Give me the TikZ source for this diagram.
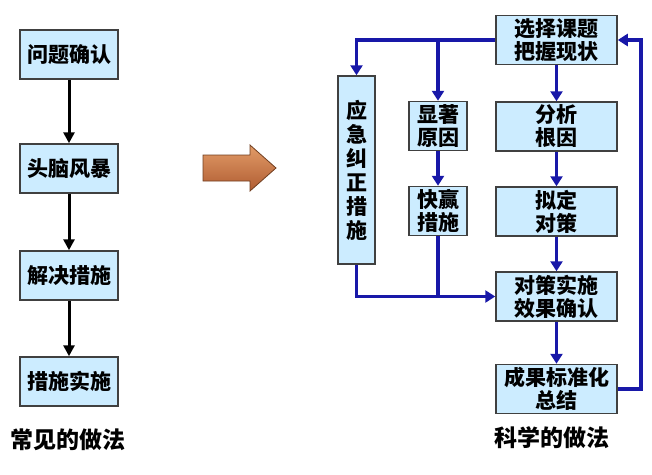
\documentclass[tikz,border=0pt]{standalone}
\usepackage{fontspec}
\setmainfont{Noto Sans CJK SC}
\usetikzlibrary{arrows.meta,positioning,calc}

\definecolor{boxblue}{RGB}{204,236,255}
\definecolor{flowblue}{RGB}{24,24,168}
\definecolor{arrowtop}{RGB}{226,156,104}
\definecolor{arrowbot}{RGB}{176,92,50}
\definecolor{arrowedge}{RGB}{112,62,32}

\begin{document}
\begin{tikzpicture}[x=1pt,y=-1pt,
  oldbox/.style={
    draw=black!75, line width=1.5pt, rectangle, minimum width=98pt, minimum height=49pt,
    align=center, font=\fontsize{21}{24}\selectfont\bfseries, fill=boxblue,
    inner sep=0pt
  },
  newbox/.style={
    draw=black!75, line width=1.5pt, rectangle, minimum width=121pt, minimum height=49pt,
    align=center, font=\fontsize{21}{23}\selectfont\bfseries, fill=boxblue,
    inner sep=0pt
  },
  smallbox/.style={newbox, minimum width=58pt},
  tallbox/.style={newbox, minimum width=37pt, minimum height=188pt,
    font=\fontsize{21}{24}\selectfont\bfseries},
  caption/.style={font=\fontsize{23}{26}\selectfont\bfseries, inner sep=0pt},
  oldarrow/.style={line width=3pt, -{Triangle[length=11pt,width=11pt]}},
  flowline/.style={draw=flowblue, line width=3.6pt},
  flow/.style={flowline, -{Triangle[length=10pt,width=12pt]}}
]
\useasboundingbox (0,0) rectangle (652,474);

% common way
\node[oldbox] (a1) at (69,54.5)  {问题确认};
\node[oldbox] (a2) at (69,168.5) {头脑风暴};
\node[oldbox] (a3) at (69,275.5) {解决措施};
\node[oldbox] (a4) at (69,381.5) {措施实施};
\node[caption] (oldcap) at (68,440) {常见的做法};

\foreach \i/\j in {1/2,2/3,3/4} {
  \draw[oldarrow] (a\i) -- (a\j);
}

% big arrow in the middle
\draw[draw=arrowedge, line width=0.8pt, top color=arrowtop, bottom color=arrowbot]
  (203,155) -- (250,155) -- (250,145) -- (276,168) -- (250,191) -- (250,181)
  -- (203,181) -- cycle;

% scientific way
\node[newbox] (sel)   at (556.5,40)    {选择课题\\把握现状};
\node[newbox] (fenxi) at (556.5,126.5) {分析\\根因};
\node[newbox] (nid)   at (556.5,211.5) {拟定\\对策};
\node[newbox] (shi)   at (556.5,296.5) {对策实施\\效果确认};
\node[newbox] (cheng) at (556.5,389)   {成果标准化\\总结};
\node[smallbox] (xian) at (438,126)    {显著\\原因};
\node[smallbox] (kuai) at (438,211)    {快赢\\措施};
\node[tallbox] (jiu)   at (356.5,170)  {应\\急\\纠\\正\\措\\施};
\node[caption] (newcap) at (552,438)   {科学的做法};

% connectors
\draw[flow] (sel.west) -| (jiu.north);
\draw[flow] (xian.north |- sel.west) -- (xian.north);
\draw[flow] (sel) -- (fenxi);
\draw[flow] (fenxi) -- (nid);
\draw[flow] (nid) -- (shi);
\draw[flow] (shi) -- (cheng);
\draw[flow] (xian) -- (kuai);
\draw[flow] (jiu.south) |- (shi.west);
\draw[flowline] (kuai.south) -- (kuai.south |- shi.west);
\draw[flow] (cheng.east) -- ++(23,0) |- (sel.east);

\end{tikzpicture}
\end{document}
